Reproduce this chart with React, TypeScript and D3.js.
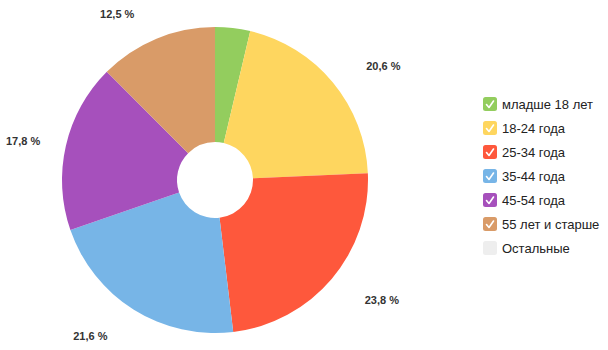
import React from "react";
import * as d3 from "d3";

const categories = ["младше 18 лет", "18-24 года", "25-34 года", "35-44 года", "45-54 года", "55 лет и старше", "Остальные"];
const values = [3.7, 20.6, 23.8, 21.6, 17.8, 12.5, 0];
const colors = ["#93cd5e", "#fed65f", "#fe583c", "#77b5e7", "#a650bc", "#d99b68", "#eeeeee"];
const labelTexts = ["", "20,6 %", "23,8 %", "21,6 %", "17,8 %", "12,5 %", ""];

const W = 608, H = 350;
const cx = 215, cy = 180, outerR = 153, innerR = 38, labelR = 182, labelPad = 11, edge = 6;
const font = "'Liberation Sans', Arial, Helvetica, sans-serif";
const labelFont = `bold 11px ${font}`;

function measure(t: string): number {
  if (typeof document === "undefined") return t.length * 6;
  const c = document.createElement("canvas").getContext("2d");
  if (!c) return t.length * 6;
  c.font = labelFont;
  return c.measureText(t).width;
}

export default function App() {
  const pie = d3.pie<number>().value(d => d).sort(null);
  const arcs = pie(values);
  const arcGen = d3.arc<d3.PieArcDatum<number>>().innerRadius(innerR).outerRadius(outerR);
  const labelArc = d3.arc<d3.PieArcDatum<number>>().innerRadius(labelR).outerRadius(labelR);
  const legendY = d3.scaleBand<number>().domain(d3.range(categories.length)).range([92, 260]);
  return (
    <svg width={W} height={H} style={{ position: "absolute", left: 0, top: 0, background: "#fff" }} fontFamily={font}>
      <g transform={`translate(${cx},${cy})`}>
        {arcs.map((a, i) => (
          <path key={i} d={arcGen(a) || ""} fill={colors[i]} />
        ))}
        {arcs.map((a, i) => {
          if (!labelTexts[i]) return null;
          const [x, y] = labelArc.centroid(a);
          const right = x >= 0;
          const w = measure(labelTexts[i]);
          let left = right ? x + labelPad : x - labelPad - w;
          left = Math.max(left, edge - cx);
          left = Math.min(left, W - edge - cx - w);
          return (
            <text key={"l" + i} x={left} y={y + 2} textAnchor="start" dominantBaseline="central" fontSize={11} fontWeight="bold" fill="#333">
              {labelTexts[i]}
            </text>
          );
        })}
      </g>
      <g>
        {categories.map((c, i) => {
          const y = (legendY(i) as number) + legendY.bandwidth() / 2;
          return (
            <g key={"g" + i} transform={`translate(483,${y})`}>
              <rect x={0} y={-7} width={14} height={14} rx={2.5} fill={colors[i]} />
              {values[i] > 0 && (
                <path d="M3.5,0.5 L6,3.5 L10.5,-3" fill="none" stroke="#fff" strokeWidth={1.6} strokeLinecap="round" strokeLinejoin="round" />
              )}
              <text x={19} y={0} dominantBaseline="central" fontSize={13} fill="#222">{c}</text>
            </g>
          );
        })}
      </g>
    </svg>
  );
}
